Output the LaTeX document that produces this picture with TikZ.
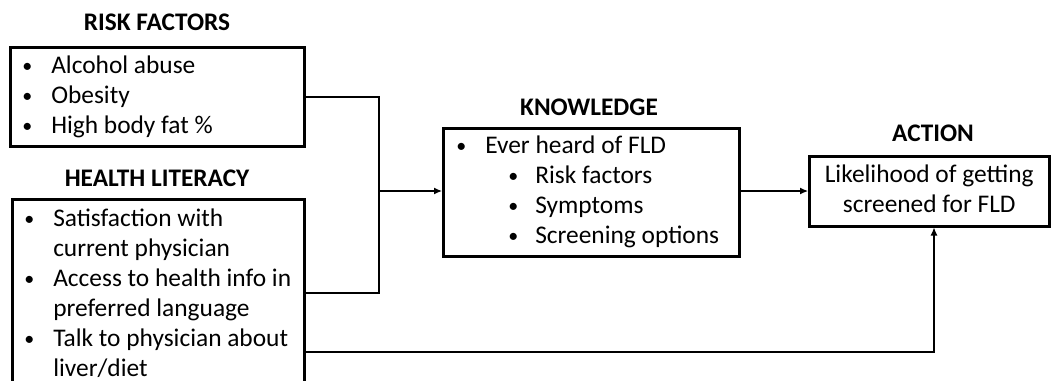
\documentclass[tikz,border=0pt]{standalone}
\usepackage{fontspec}
\setmainfont{Carlito}
\usetikzlibrary{arrows.meta}
\newcommand{\nsp}{\spaceskip=0pt\xspaceskip=0pt\relax}
\newcommand{\dotmark}{\hspace*{2pt}\raisebox{1pt}{\fontsize{20}{20}\selectfont •}}
\newcommand{\bul}[1]{\makebox[31pt][l]{\dotmark}#1}
\newcommand{\hang}[1]{\hspace*{31pt}#1}
\newcommand{\subbul}[1]{\hspace*{52pt}\makebox[29pt][l]{\dotmark}#1}
\begin{document}
\begin{tikzpicture}[x=1pt,y=-1pt,
  box/.style={draw,line width=2.5pt,anchor=north west,inner ysep=0pt,align=left,
    font=\fontsize{25.4}{30}\selectfont},
  ttl/.style={font=\fontsize{25.3}{30}\selectfont\bfseries,inner sep=0pt},
  conn/.style={line width=1.2pt},
  arr/.style={conn,-{Latex[length=8pt,width=7pt]}}]
\clip (0,0) rectangle (1051,380);
\useasboundingbox (0,0) rectangle (1051,380);
\node[box,minimum width=294pt,minimum height=99pt,text width=274pt,inner xsep=10pt] (risk) at (9,46)
  {\nsp\bul{Alcohol abuse}\\\bul{Obesity}\\\bul{High body fat \%}};
\node[ttl] (riskt) at (157,22) {RISK FACTORS};
\node[box,minimum width=292pt,minimum height=188pt,text width=272pt,inner xsep=10pt] (health) at (11,198)
  {\nsp\bul{Satisfaction with}\\\hang{current physician}\\\bul{\mbox{Access to health info in}}\\\hang{preferred language}\\\bul{Talk to physician about}\\\hang{liver/diet}};
\node[ttl] (healtht) at (157,178) {HEALTH LITERACY};
\node[box,minimum width=296pt,minimum height=128pt,text width=274pt,inner xsep=11pt] (know) at (442,127)
  {\nsp\bul{Ever heard of FLD}\\\subbul{Risk factors}\\\subbul{Symptoms}\\\subbul{Screening options}};
\node[ttl] (knowt) at (589,107) {KNOWLEDGE};
\node[box,minimum width=240pt,minimum height=70pt,inner xsep=5pt,align=center] (act) at (808,155)
  {\nsp\begin{tabular}{@{}c@{}}Likelihood of getting\\screened for FLD\end{tabular}};
\node[ttl] (actt) at (933,133) {ACTION};
\coordinate (jt) at (379,97);
\coordinate (jb) at (379,293);
\coordinate (j) at (379,191);
\coordinate (ab) at (934,352);
\draw[conn] (risk.east |- jt) -- (jt) -- (jb) -- (health.east |- jb);
\draw[arr] (j) -- (know.west |- j);
\draw[arr] (know.east |- j) -- (act.west |- j);
\draw[arr] (health.east |- ab) -| (act.south -| ab);
\end{tikzpicture}
\end{document}
